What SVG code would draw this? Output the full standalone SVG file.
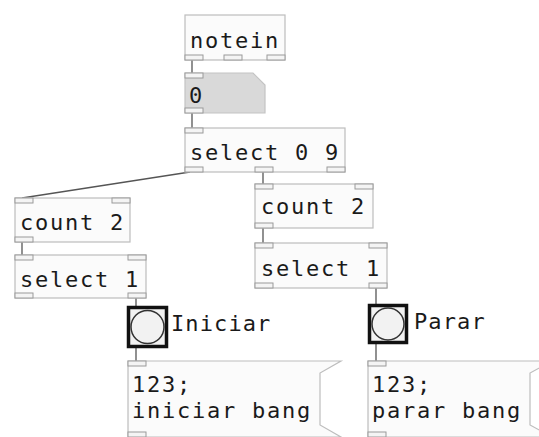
<svg xmlns="http://www.w3.org/2000/svg" width="539" height="437" viewBox="0 0 539 437">
<style>
.box{fill:#fbfbfb;stroke:#bdbdbd;stroke-width:1.2}
.io{fill:#f4f4f4;stroke:#9a9a9a;stroke-width:1}
.t{font-family:"DejaVu Sans Mono",monospace;font-size:22px;letter-spacing:1.75px;fill:#1a1a1a}
.lbl{font-family:"DejaVu Sans Mono",monospace;font-size:22px;letter-spacing:1.1px;fill:#1a1a1a}
.c{stroke:#555;stroke-width:1.3;fill:none}
.bng{fill:#f2f2f2;stroke:#111;stroke-width:3.5}
.circ{fill:#f2f2f2;stroke:#333;stroke-width:1.5}
</style>
<rect width="539" height="437" fill="#ffffff"/>
<g id="connectors">
<line class="c" x1="192" y1="60" x2="192" y2="73"/>
<line class="c" x1="192" y1="113" x2="192" y2="128"/>
<line class="c" x1="190" y1="172" x2="22" y2="198"/>
<line class="c" x1="263" y1="172" x2="263" y2="184"/>
<line class="c" x1="22" y1="242" x2="22" y2="255"/>
<line class="c" x1="263" y1="228" x2="263" y2="243"/>
<line class="c" x1="136" y1="298" x2="136" y2="306"/>
<line class="c" x1="136" y1="348" x2="136" y2="361"/>
<line class="c" x1="376" y1="288" x2="376" y2="305"/>
<line class="c" x1="376" y1="343" x2="376" y2="361"/>
</g>
<g id="notein">
<rect class="box" x="185" y="15" width="100" height="45"/>
<text class="t" x="190" y="48">notein</text>
<rect class="io" x="185" y="55" width="18" height="5"/>
<rect class="io" x="224" y="55" width="18" height="5"/>
<rect class="io" x="267" y="55" width="18" height="5"/>
</g>
<g id="number">
<path d="M185 73 H253 L265 85 V113 H185 Z" fill="#d9d9d9" stroke="#c4c4c4" stroke-width="1.2"/>
<text class="t" x="189" y="103">0</text>
<rect class="io" x="185" y="73" width="18" height="5"/>
<rect class="io" x="185" y="108" width="18" height="5"/>
</g>
<g id="select09">
<rect class="box" x="185" y="128" width="160" height="44"/>
<text class="t" x="190" y="160">select 0 9</text>
<rect class="io" x="185" y="128" width="18" height="5"/>
<rect class="io" x="185" y="167" width="18" height="5"/>
<rect class="io" x="255" y="167" width="18" height="5"/>
<rect class="io" x="327" y="167" width="18" height="5"/>
</g>
<g id="count2a">
<rect class="box" x="15" y="198" width="115" height="44"/>
<text class="t" x="20" y="230">count 2</text>
<rect class="io" x="15" y="198" width="18" height="5"/>
<rect class="io" x="112" y="198" width="18" height="5"/>
<rect class="io" x="15" y="237" width="18" height="5"/>
</g>
<g id="select1a">
<rect class="box" x="15" y="255" width="131" height="43"/>
<text class="t" x="20" y="287">select 1</text>
<rect class="io" x="15" y="255" width="18" height="5"/>
<rect class="io" x="128" y="255" width="18" height="5"/>
<rect class="io" x="15" y="293" width="18" height="5"/>
<rect class="io" x="128" y="293" width="18" height="5"/>
</g>
<g id="count2b">
<rect class="box" x="255" y="184" width="118" height="44"/>
<text class="t" x="261" y="214">count 2</text>
<rect class="io" x="255" y="184" width="18" height="5"/>
<rect class="io" x="355" y="184" width="18" height="5"/>
<rect class="io" x="255" y="223" width="18" height="5"/>
</g>
<g id="select1b">
<rect class="box" x="255" y="243" width="132" height="45"/>
<text class="t" x="261" y="276">select 1</text>
<rect class="io" x="255" y="243" width="18" height="5"/>
<rect class="io" x="369" y="243" width="18" height="5"/>
<rect class="io" x="255" y="283" width="18" height="5"/>
<rect class="io" x="369" y="283" width="18" height="5"/>
</g>
<g id="bangIniciar">
<rect class="bng" x="128.5" y="307.5" width="38" height="39"/>
<circle class="circ" cx="147.5" cy="327" r="16.5"/>
<text class="lbl" x="171" y="331">Iniciar</text>
</g>
<g id="bangParar">
<rect class="bng" x="369.5" y="305.5" width="37" height="37"/>
<circle class="circ" cx="388" cy="324" r="16"/>
<text class="lbl" x="414" y="329">Parar</text>
</g>
<g id="msgIniciar">
<path class="box" d="M128 361 H341 L320 373 V425 L341 437 H128 Z"/>
<text class="t" x="132" y="392">123;</text>
<text class="t" x="132" y="418">iniciar bang</text>
<rect class="io" x="128" y="361" width="18" height="5"/>
<rect class="io" x="128" y="432" width="18" height="5"/>
</g>
<g id="msgParar">
<path class="box" d="M368 361 H552 L530 373 V425 L552 437 H368 Z"/>
<text class="t" x="372" y="392">123;</text>
<text class="t" x="372" y="418">parar bang</text>
<rect class="io" x="368" y="361" width="18" height="5"/>
<rect class="io" x="368" y="432" width="18" height="5"/>
</g>
</svg>
